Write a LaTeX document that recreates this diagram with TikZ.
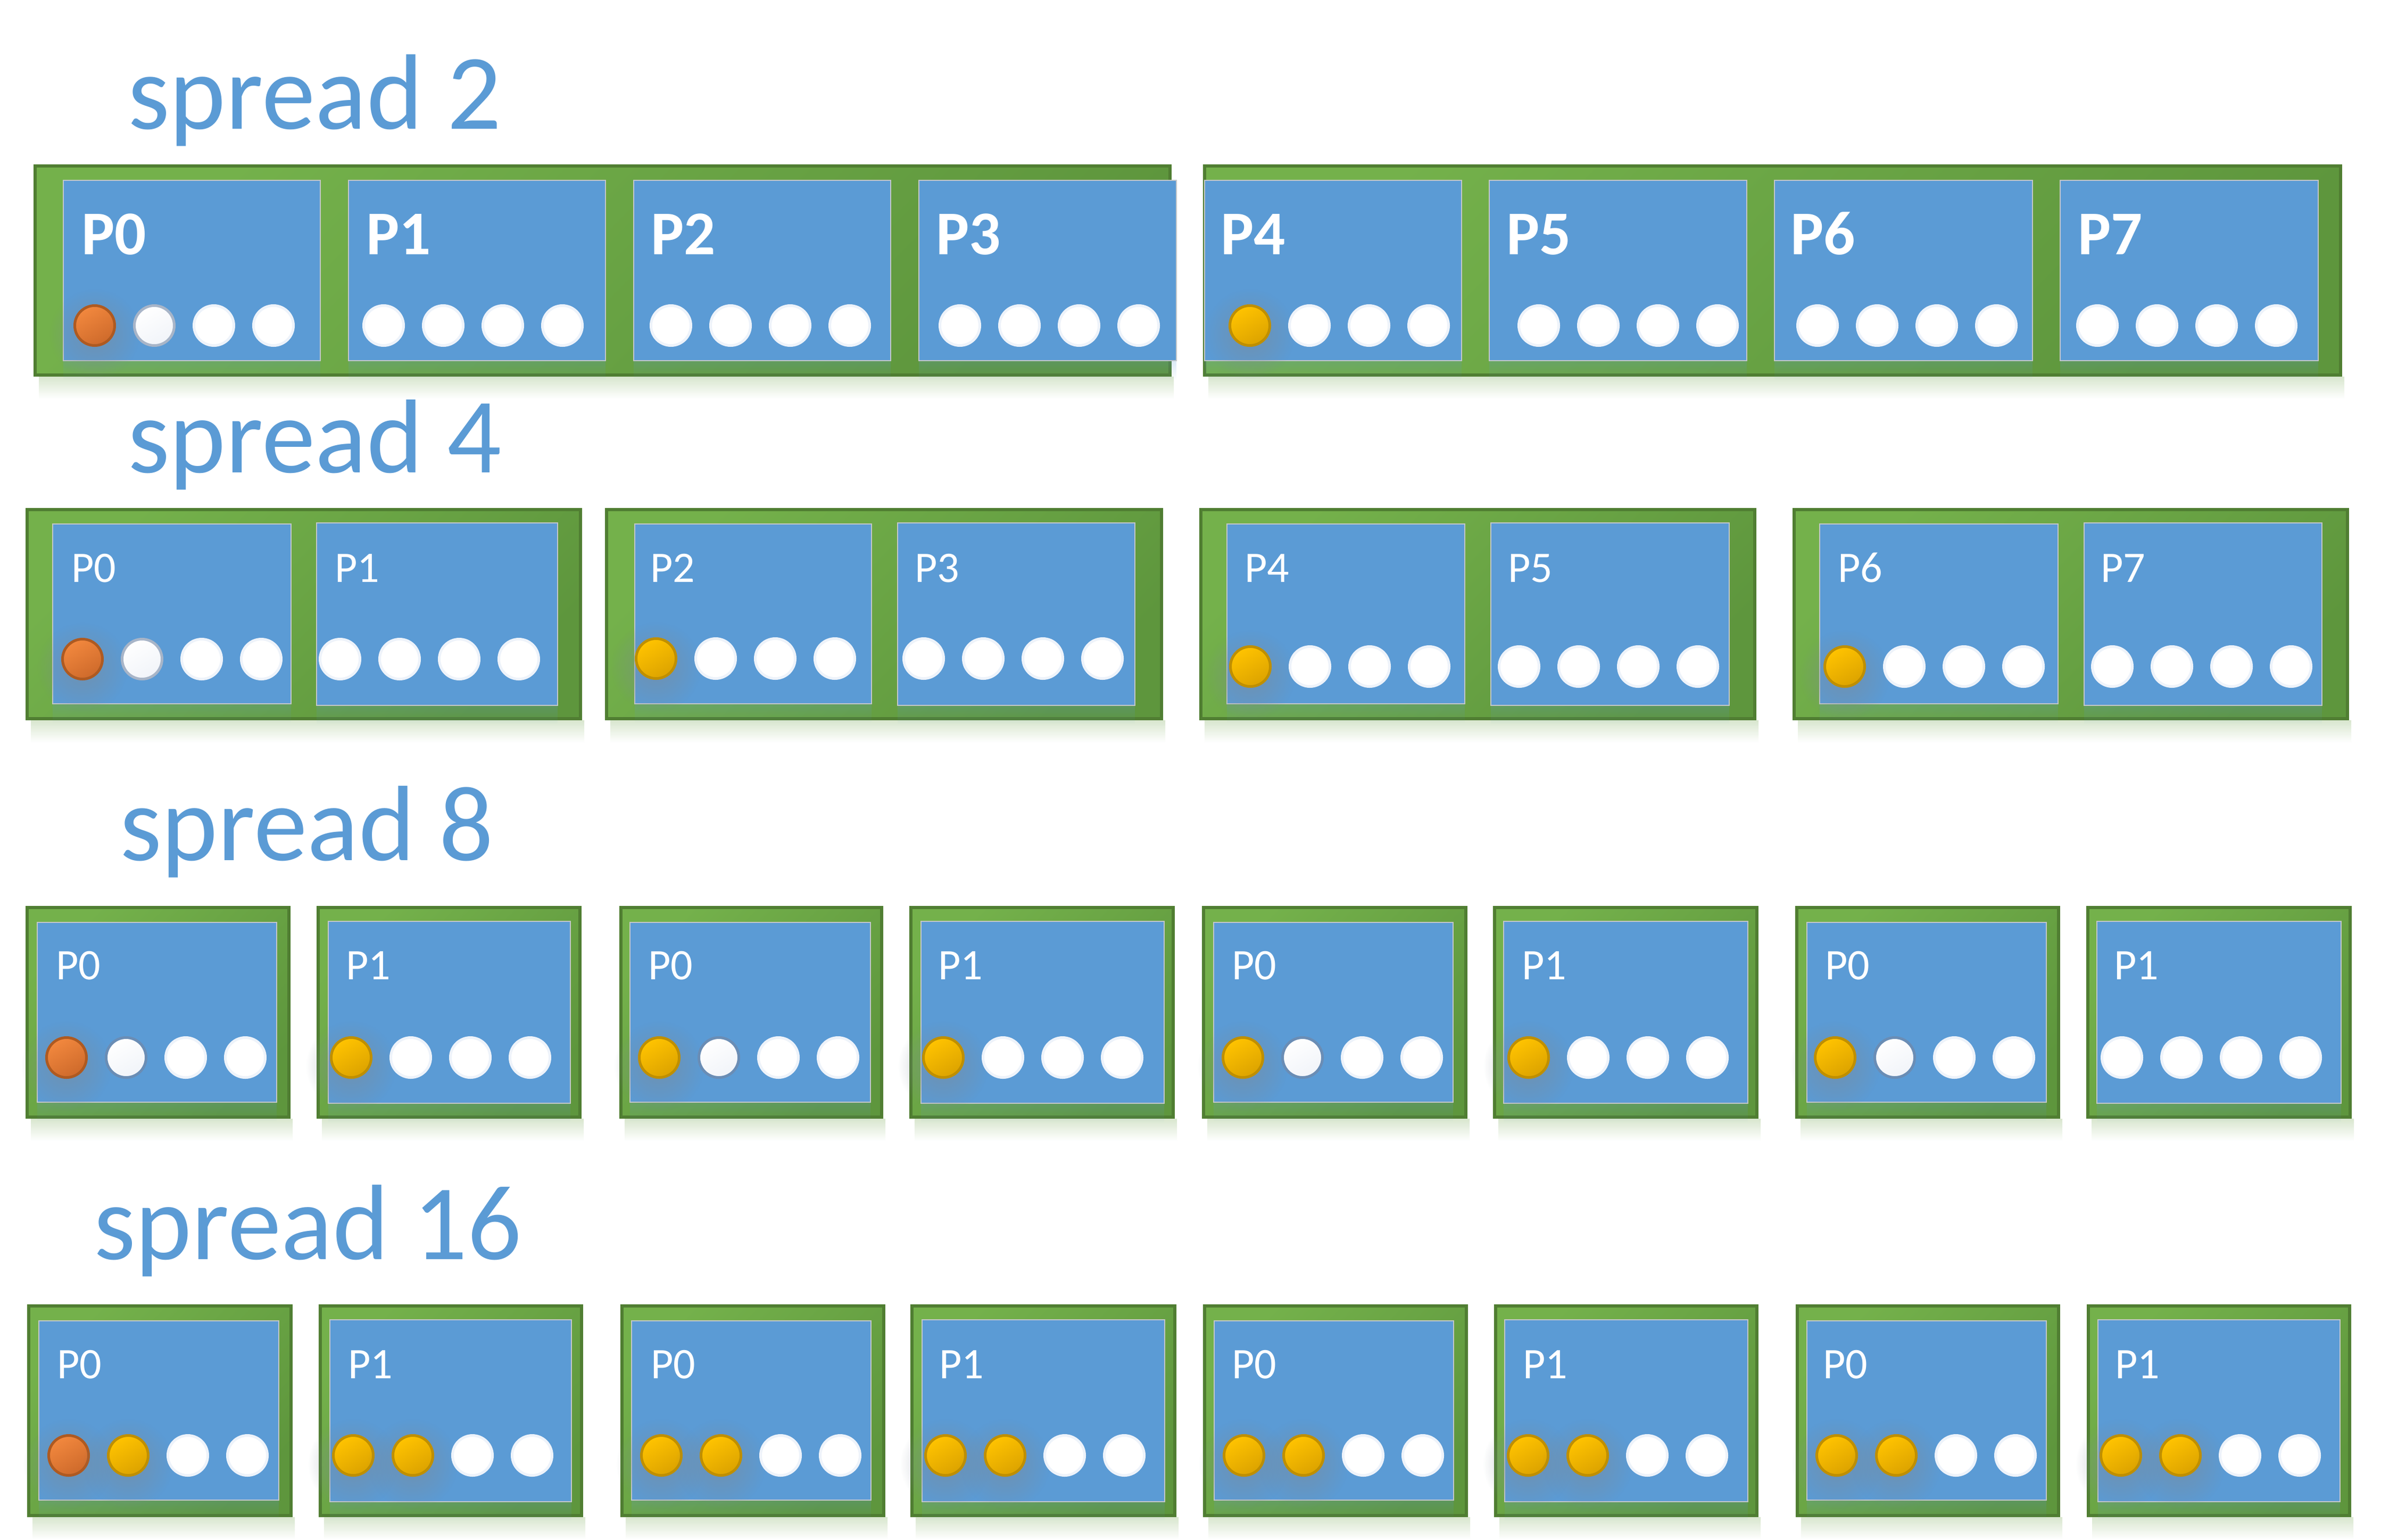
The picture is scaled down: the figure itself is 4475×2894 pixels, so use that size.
\documentclass[tikz,border=0pt]{standalone}
\usepackage{fontspec}
\setmainfont{Carlito}
\usetikzlibrary{fadings}
\definecolor{titleblue}{HTML}{5B9BD5}
\definecolor{boxblue}{HTML}{5B9BD5}
\definecolor{boxedge}{HTML}{C4C7CA}
\definecolor{gdark}{HTML}{507E32}
\definecolor{glight}{HTML}{74B14B}
\definecolor{gmid}{HTML}{5E963D}
\definecolor{gshadow}{HTML}{D8E6CE}
\definecolor{ringw}{HTML}{EEF3FA}
\definecolor{ringg}{HTML}{A8B5C8}
\definecolor{ringd}{HTML}{6A8DB5}
\definecolor{wfill}{HTML}{F1F4F9}
\definecolor{orA}{HTML}{F2883E}
\definecolor{orB}{HTML}{CE6A2B}
\definecolor{orR}{HTML}{AE5A21}
\definecolor{yeA}{HTML}{FFC300}
\definecolor{yeB}{HTML}{DCA300}
\definecolor{yeR}{HTML}{BF8F00}
\definecolor{glowc}{HTML}{7D8A96}
\tikzfading[name=softglow, inner color=transparent!0, outer color=transparent!100]
\newcommand\GreenBox[4]{%
  \shade[top color=gshadow, bottom color=white] (#1+10,#4) rectangle (#3+4,#4+42);
  \shade[draw=gdark, line width=1.2pt, top color=glight, bottom color=gmid, shading angle=45] (#1+3,#2+3) rectangle (#3-3,#4-3);
}
\newcommand\BlueBox[4]{%
  \fill[boxblue, opacity=0.22, path fading=south] (#1,#4) rectangle (#3,#4+36);
  \draw[draw=boxedge, line width=0.5pt, fill=boxblue] (#1,#2) rectangle (#3,#4);
}
\newcommand\CirW[2]{\draw[fill=white, draw=ringw, line width=1pt] (#1,#2) circle (37.5);}
\newcommand\CirG[2]{\shade[top color=white, bottom color=wfill, shading angle=30, draw=ringg, line width=1pt] (#1,#2) circle (37.5);}
\newcommand\CirD[2]{\shade[top color=white, bottom color=wfill, shading angle=30, draw=ringd, line width=1pt] (#1,#2) circle (37.5);}
\newcommand\CirO[2]{\fill[glowc, opacity=0.6, path fading=softglow] (#1,#2+16) circle (85);
  \shade[top color=orA, bottom color=orB, shading angle=30, draw=orR, line width=1pt] (#1,#2) circle (37.5);}
\newcommand\CirY[2]{\fill[glowc, opacity=0.6, path fading=softglow] (#1,#2+16) circle (85);
  \shade[top color=yeA, bottom color=yeB, shading angle=30, draw=yeR, line width=1pt] (#1,#2) circle (37.5);}
\newcommand\FourDots[6]{#1{#5}{#6}#2{#5+112}{#6}#3{#5+224}{#6}#4{#5+336}{#6}}
\begin{document}
\begin{tikzpicture}[x=0.2pt,y=-0.2pt,
  title/.style={font=\fontsize{40.3}{44}\selectfont, text=titleblue, inner sep=0pt, anchor=base west},
  pbold/.style={font=\fontsize{23.4}{26}\selectfont\bfseries, text=white, inner sep=0pt, anchor=base west},
  preg/.style={font=\fontsize{16.4}{18}\selectfont, text=white, inner sep=0pt, anchor=base west}]
\useasboundingbox (0,0) rectangle (4475,2894);
\fill[white] (0,0) rectangle (4475,2894);

% ---------- titles
\node[title] (t2) at (239,242) {spread 2};
\node[title] (t4) at (239,888) {spread 4};
\node[title] (t8) at (224,1617) {spread 8};
\node[title] (t16) at (175,2367) {spread 16};

% ---------- spread 2
\GreenBox{63}{309}{2202}{708}
\GreenBox{2261}{309}{4402}{708}
\BlueBox{119}{339}{602}{678}
\BlueBox{655}{339}{1138}{678}
\BlueBox{1191}{339}{1674}{678}
\BlueBox{1727}{339}{2211}{678}
\BlueBox{2264}{339}{2747}{678}
\BlueBox{2799}{339}{3283}{678}
\BlueBox{3335}{339}{3820}{678}
\BlueBox{3872}{339}{4357}{678}
\node[pbold] (a0) at (152,478) {P0};
\node[pbold] (a1) at (687,478) {P1};
\node[pbold] (a2) at (1222,478) {P2};
\node[pbold] (a3) at (1758,478) {P3};
\node[pbold] (a4) at (2293,478) {P4};
\node[pbold] (a5) at (2830,478) {P5};
\node[pbold] (a6) at (3364,478) {P6};
\node[pbold] (a7) at (3904,478) {P7};
\FourDots\CirO\CirG\CirW\CirW{178}{612}
\FourDots\CirW\CirW\CirW\CirW{721}{612}
\FourDots\CirW\CirW\CirW\CirW{1261}{612}
\FourDots\CirW\CirW\CirW\CirW{1804}{612}
\FourDots\CirY\CirW\CirW\CirW{2349}{612}
\FourDots\CirW\CirW\CirW\CirW{2892}{612}
\FourDots\CirW\CirW\CirW\CirW{3416}{612}
\FourDots\CirW\CirW\CirW\CirW{3942}{612}

% ---------- spread 4
\GreenBox{48}{955}{1094}{1354}
\GreenBox{1137}{955}{2186}{1354}
\GreenBox{2254}{955}{3301}{1354}
\GreenBox{3369}{955}{4415}{1354}
\BlueBox{99}{985}{547}{1323}
\BlueBox{595}{983}{1048}{1326}
\BlueBox{1193}{985}{1638}{1323}
\BlueBox{1687}{983}{2133}{1326}
\BlueBox{2306}{985}{2753}{1323}
\BlueBox{2802}{983}{3250}{1326}
\BlueBox{3420}{985}{3868}{1323}
\BlueBox{3917}{983}{4364}{1326}
\node[preg] (b0) at (133,1094) {P0};
\node[preg] (b1) at (628,1094) {P1};
\node[preg] (b2) at (1221,1094) {P2};
\node[preg] (b3) at (1718,1094) {P3};
\node[preg] (b4) at (2338,1094) {P4};
\node[preg] (b5) at (2833,1094) {P5};
\node[preg] (b6) at (3453,1094) {P6};
\node[preg] (b7) at (3947,1094) {P7};
\FourDots\CirO\CirG\CirW\CirW{155}{1239}
\FourDots\CirW\CirW\CirW\CirW{639}{1239}
\FourDots\CirY\CirW\CirW\CirW{1233}{1238}
\FourDots\CirW\CirW\CirW\CirW{1736}{1238}
\FourDots\CirY\CirW\CirW\CirW{2350}{1253}
\FourDots\CirW\CirW\CirW\CirW{2855}{1253}
\FourDots\CirY\CirW\CirW\CirW{3467}{1253}
\FourDots\CirW\CirW\CirW\CirW{3970}{1253}

% ---------- spread 8
\GreenBox{48}{1703}{546}{2103}
\GreenBox{595}{1703}{1093}{2103}
\GreenBox{1164}{1703}{1660}{2103}
\GreenBox{1709}{1703}{2208}{2103}
\GreenBox{2259}{1703}{2758}{2103}
\GreenBox{2806}{1703}{3305}{2103}
\GreenBox{3374}{1703}{3872}{2103}
\GreenBox{3921}{1703}{4420}{2103}
\BlueBox{70}{1734}{520}{2072}
\BlueBox{617}{1732}{1072}{2074}
\BlueBox{1184}{1734}{1636}{2072}
\BlueBox{1731}{1732}{2188}{2074}
\BlueBox{2281}{1734}{2731}{2072}
\BlueBox{2826}{1732}{3285}{2074}
\BlueBox{3396}{1734}{3846}{2072}
\BlueBox{3941}{1732}{4400}{2074}
\node[preg] (c0) at (104,1841) {P0};
\node[preg] (c1) at (649,1841) {P1};
\node[preg] (c2) at (1217,1841) {P0};
\node[preg] (c3) at (1762,1841) {P1};
\node[preg] (c4) at (2314,1841) {P0};
\node[preg] (c5) at (2859,1841) {P1};
\node[preg] (c6) at (3429,1841) {P0};
\node[preg] (c7) at (3972,1841) {P1};
\FourDots\CirO\CirD\CirW\CirW{125}{1988}
\FourDots\CirY\CirW\CirW\CirW{660}{1988}
\FourDots\CirY\CirD\CirW\CirW{1239}{1988}
\FourDots\CirY\CirW\CirW\CirW{1773}{1988}
\FourDots\CirY\CirD\CirW\CirW{2336}{1988}
\FourDots\CirY\CirW\CirW\CirW{2873}{1988}
\FourDots\CirY\CirD\CirW\CirW{3449}{1988}
\FourDots\CirW\CirW\CirW\CirW{3988}{1988}

% ---------- spread 16
\GreenBox{51}{2452}{550}{2852}
\GreenBox{599}{2452}{1096}{2852}
\GreenBox{1166}{2452}{1664}{2852}
\GreenBox{1711}{2452}{2211}{2852}
\GreenBox{2261}{2452}{2759}{2852}
\GreenBox{2808}{2452}{3305}{2852}
\GreenBox{3375}{2452}{3872}{2852}
\GreenBox{3922}{2452}{4419}{2852}
\BlueBox{73}{2483}{524}{2820}
\BlueBox{620}{2481}{1074}{2823}
\BlueBox{1187}{2483}{1637}{2820}
\BlueBox{1733}{2481}{2189}{2823}
\BlueBox{2282}{2483}{2732}{2820}
\BlueBox{2828}{2481}{3285}{2823}
\BlueBox{3396}{2483}{3846}{2820}
\BlueBox{3943}{2481}{4398}{2823}
\node[preg] (d0) at (106,2591) {P0};
\node[preg] (d1) at (653,2591) {P1};
\node[preg] (d2) at (1222,2591) {P0};
\node[preg] (d3) at (1764,2591) {P1};
\node[preg] (d4) at (2314,2591) {P0};
\node[preg] (d5) at (2861,2591) {P1};
\node[preg] (d6) at (3425,2591) {P0};
\node[preg] (d7) at (3974,2591) {P1};
\FourDots\CirO\CirY\CirW\CirW{129}{2736}
\FourDots\CirY\CirY\CirW\CirW{664}{2736}
\FourDots\CirY\CirY\CirW\CirW{1243}{2736}
\FourDots\CirY\CirY\CirW\CirW{1777}{2736}
\FourDots\CirY\CirY\CirW\CirW{2338}{2736}
\FourDots\CirY\CirY\CirW\CirW{2872}{2736}
\FourDots\CirY\CirY\CirW\CirW{3452}{2736}
\FourDots\CirY\CirY\CirW\CirW{3986}{2736}
\end{tikzpicture}
\end{document}
